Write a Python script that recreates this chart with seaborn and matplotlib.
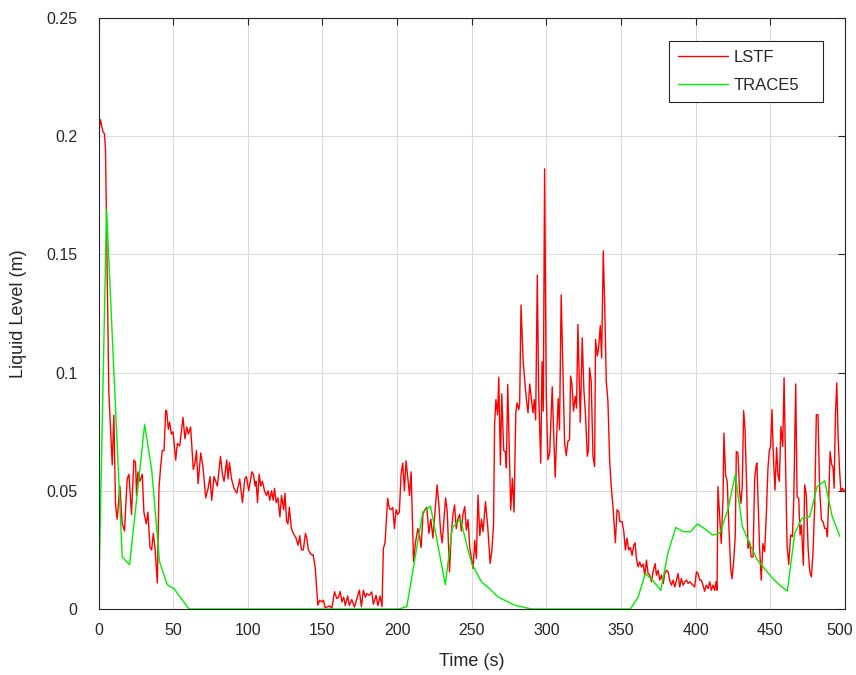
import seaborn as sns
import pandas as pd
import matplotlib.pyplot as plt
from matplotlib.transforms import ScaledTranslation

# LSTF liquid level
lstf_time = [
    0, 1.3, 2.9, 4, 4.7, 6.9, 9.2, 10.3, 11.4, 12.5, 14.3, 15.9, 17.4, 19.2, 20.4, 22.1, 23.7, 24.8, 25.5, 26.4,
    27.7, 29.3, 30.4, 32, 33.1, 34.5, 35.6, 36.7, 37.8, 39.4, 40.5, 41.6, 42.7, 43.9, 45, 45.6, 46.8, 47.6, 48.8, 49.9,
    51.7, 52.8, 54.4, 56.6, 57.9, 59.1, 60.2, 61.7, 63.5, 64.7, 65.6, 66.7, 68.5, 70, 71.8, 73.4, 74.7, 75.8, 77.4,
    79.6, 81.7, 83, 84.1, 85.9, 86.8, 87.7, 89.1, 90.8, 92.6, 94.6, 96.4, 98, 99.1, 100.6, 102.7, 103.8, 104.9, 105.6,
    106.5, 107.6, 108.7, 109.8, 111.2, 112.5, 113.6, 114.7, 115.9, 117, 117.9, 119, 120.2, 121.5, 122.6, 124, 124.9,
    126, 126.9, 127.8, 129.2, 130.5, 132.3, 133.7, 134.8, 135.9, 137.2, 138.6, 139.5, 140.6, 142.4, 143.7, 145.1,
    146.9, 148.2, 149.6, 150.7, 151.8, 153.6, 154.9, 156.3, 158.1,
    159.6, 160.8, 161.9, 163, 164.2, 165.3, 166.9, 168, 169.6, 171.4, 172.9, 174.7, 176.1, 177.4, 178.7, 179.8, 181.4,
    183, 184.1, 185.9, 187.2, 188.6, 189.9, 190.8, 191.9, 193.7, 194.8, 195.9, 197.1, 198.2, 199.3, 200.4, 201.5,
    202.7, 203.8, 204.9, 206, 207.2, 208.3, 209.4, 211, 212.3, 213.9, 215, 216.1, 217.3, 218.6, 219.9, 221.3, 222.6,
    224, 225.5, 226.8, 228, 229.1, 230.2, 231.3, 232.5, 233.6, 235.1, 236.2, 237.4, 238.5, 239.6, 240.7, 241.9, 243,
    244.1,
    245.3, 246.4, 247.5, 248.7, 250.2, 250.9, 252, 253.1, 254.2, 255.4, 256.5, 257.6, 259.2, 260.8, 262.3, 263.4,
    264.6, 265.3, 266.2, 267.3, 268.1, 269.2, 270.1, 271.4, 272.5, 273.2, 274.1, 276.1, 277.2, 278.3, 279.5, 280.3,
    281.5, 282.1, 283, 284.4, 285.5, 286.6, 287.7, 288.8, 289.9, 291, 291.9, 292.8, 293.9, 294.8, 296.2, 297.1,
    297.9, 298.8, 299.9, 301, 302.2, 303.9, 305, 305.9, 306.8, 307.9, 308.8, 309.9, 311.1, 312.2, 313.3, 314.4,
    315.5, 316.2, 317.1, 318.2, 319.3, 320.2, 321.1, 322.7, 324, 325.1, 326.2, 327.4, 328.2, 328.9, 330, 331.2,
    332.3, 332.9, 334.1, 334.9, 336.1, 337, 338.1, 339, 340.1, 341.2, 342.4, 343.5, 344.6, 346.2, 347.3, 348.6,
    349.1, 350.7, 351.8, 352.9, 354, 355.1, 356.2, 357.4, 358.5, 359.4, 360.3, 361.4, 362.5, 363.6, 364.8, 365.9,
    367, 368.1, 369.2, 370.4, 371.4, 372.8, 373.7, 374.8, 375.9, 377.1, 378.2, 379.3, 380.4, 381.5, 382.6, 383.8,
    384.9, 386, 387.1, 388.2, 389.3, 390.4, 391.6, 392.7, 393.8, 394.9, 396, 397.1, 398.2, 399.3, 400.5, 401.6,
    402.7, 403.8, 404.9, 406, 407.1, 408.3, 409.4, 410.5, 411.6, 412.7, 413.6, 414.3,
    414.9, 416, 417.1, 418.3, 418.9, 420, 421.1, 422.2, 423.4, 424.3, 425.4, 426.5, 427.2, 428.3, 429.4, 430.3,
    431.2, 432.1, 433, 434.1, 435, 436.1, 437.2, 438.4, 439.5, 440.4, 441, 441.9, 442.8, 443.9, 445, 446.2, 447.3,
    448.4, 449.3, 450.2, 451.1, 452, 453.1, 454.2, 455.1, 456, 457.1, 458.3, 459.2, 460.1, 461.2, 462.3, 463.6,
    464.8, 465.7, 467, 467.9, 469, 469.9, 470.8, 472.1, 473, 474.1, 475.3, 476.4, 477.5, 478.6, 479.7, 480.8,
    481.9, 483, 484.2, 485.3, 486.4, 487.5, 488.2, 489.1, 490, 491.1, 492, 492.7, 493.6, 494.5, 495.4, 496.3,
    497.2, 498.3, 499.4, 500,
]
lstf_level = [
    0.201, 0.207, 0.202, 0.201, 0.194, 0.092, 0.061, 0.082, 0.044, 0.038, 0.052, 0.036, 0.033, 0.055, 0.057, 0.040,
    0.063, 0.062, 0.048, 0.058, 0.054, 0.057, 0.041, 0.036, 0.041, 0.026, 0.025, 0.032, 0.026, 0.011, 0.051, 0.060,
    0.067, 0.067, 0.084, 0.084, 0.076, 0.079, 0.074, 0.075, 0.063, 0.070, 0.069, 0.081, 0.072, 0.077, 0.074, 0.077,
    0.059, 0.062, 0.067, 0.053, 0.066, 0.060, 0.047, 0.051, 0.056, 0.046, 0.056,
    0.052, 0.0645, 0.057, 0.054, 0.063, 0.055, 0.062, 0.055, 0.051, 0.049, 0.055, 0.045, 0.055, 0.056, 0.050, 0.058,
    0.057, 0.052, 0.054, 0.045, 0.057, 0.052, 0.054, 0.050, 0.048, 0.050, 0.046, 0.050, 0.046, 0.051, 0.045, 0.047,
    0.039, 0.048, 0.042, 0.049, 0.037, 0.036, 0.043, 0.034, 0.032, 0.030, 0.027, 0.031, 0.025, 0.025, 0.032, 0.030,
    0.025, 0.023, 0.023, 0.018, 0.0016, 0.0037, 0.003, 0.0037, 0.0005, 0.001, 0.0013, 0.0003, 0.0073,
    0.0044, 0.005, 0.0074, 0.003, 0.005, 0.0015, 0.0055, 0.0015, 0.004, 0.0008, 0.004, 0.008, 0.001, 0.008, 0.005,
    0.0065, 0.0058, 0.0072, 0.002, 0.0058, 0.0015, 0.0055, 0.001, 0.0256, 0.028, 0.0468, 0.0425, 0.042, 0.043,
    0.034, 0.042, 0.040, 0.041, 0.0574, 0.0617, 0.050, 0.0627, 0.0553, 0.048, 0.058, 0.020, 0.028, 0.034, 0.031,
    0.026, 0.040, 0.042, 0.043, 0.032, 0.038, 0.030, 0.042, 0.0525, 0.044, 0.033, 0.028, 0.037, 0.047, 0.041,
    0.0157, 0.031, 0.040, 0.044, 0.034, 0.038, 0.040, 0.033, 0.040,
    0.0433, 0.0334, 0.0378, 0.0256, 0.0200, 0.0171, 0.029, 0.0214, 0.0482, 0.031, 0.038, 0.0327, 0.0454, 0.034,
    0.0193, 0.0242, 0.0355, 0.078, 0.0886, 0.0822, 0.098, 0.061, 0.091, 0.067, 0.0666, 0.0597, 0.095, 0.0419,
    0.0553, 0.041, 0.0829, 0.0872, 0.0843, 0.087, 0.1286, 0.105, 0.0964, 0.0886, 0.083, 0.0952, 0.089, 0.083,
    0.0886, 0.080, 0.1413, 0.092, 0.0617, 0.1046, 0.0837, 0.1862, 0.0907, 0.0631, 0.066, 0.094, 0.072, 0.0557,
    0.072, 0.089, 0.0758, 0.1329, 0.099, 0.070, 0.0649, 0.071, 0.0716, 0.0985, 0.095, 0.0837, 0.090, 0.085,
    0.1204, 0.079, 0.1147, 0.0928, 0.082, 0.0646, 0.0673, 0.1020, 0.0964, 0.0646, 0.0603, 0.114, 0.107, 0.110,
    0.1199, 0.1062, 0.1515, 0.1299, 0.0964, 0.088, 0.0624, 0.0512, 0.0433, 0.028, 0.042, 0.041,
    0.037, 0.037, 0.033, 0.025, 0.030, 0.025, 0.026, 0.0227, 0.027, 0.028, 0.0213, 0.0178, 0.0199, 0.0178, 0.019,
    0.0143, 0.0207, 0.015, 0.0143, 0.0115, 0.0157, 0.0192, 0.0143, 0.0164, 0.0122, 0.0143, 0.0107, 0.015, 0.0164,
    0.0157, 0.0122, 0.0101, 0.0122, 0.0093, 0.0122, 0.015, 0.0093, 0.0129, 0.0101, 0.0115, 0.0122, 0.0108, 0.0115,
    0.0108, 0.0101, 0.0093, 0.0157, 0.015, 0.0122, 0.0122, 0.0101, 0.0075, 0.0101, 0.0086, 0.0115, 0.0079, 0.0101,
    0.0079, 0.0115, 0.0079,
    0.0518, 0.040, 0.0277, 0.0468, 0.0744, 0.0567, 0.054, 0.0355, 0.0171, 0.0128, 0.0199, 0.0313, 0.0666, 0.066,
    0.0497, 0.0447, 0.0525, 0.0839, 0.0765, 0.0525, 0.0256, 0.0284, 0.022, 0.022, 0.0553, 0.0603, 0.0617, 0.044,
    0.0256, 0.0122, 0.0277, 0.0242, 0.040, 0.0596, 0.067, 0.0688, 0.0843, 0.0652, 0.0503, 0.0683, 0.0567, 0.054,
    0.0772, 0.0688, 0.0978, 0.0645, 0.027, 0.0188, 0.0313, 0.0306, 0.0468, 0.0952, 0.0475, 0.0468, 0.0313, 0.0355,
    0.0185, 0.0525, 0.0482, 0.0256, 0.0157, 0.0136, 0.0242, 0.044, 0.0822, 0.0822, 0.0511, 0.0377, 0.0369, 0.0341,
    0.0341, 0.0306, 0.0468, 0.0666, 0.061, 0.060, 0.0511, 0.0822, 0.0957, 0.0723, 0.0596, 0.0497, 0.0511, 0.0497,
    0.0503,
]

# TRACE5 liquid level
trace_time = [
    0, 5.4, 15.9, 20.8, 30.9, 35.6, 40.9, 46, 50.6, 60.6, 201, 206.5, 217.2, 222.4, 232.3, 237, 242.4, 247.5,
    250.2, 256.5, 262, 267.6, 278.8, 290, 356.2, 361.4, 366.3, 371.4, 376.6, 381.5, 386.7, 391.6, 396.5, 401.2,
    406, 411.2, 416.1, 421.6, 426.5, 431.2, 436.1, 441, 446.2, 451.8, 456.5, 461.4, 466.3, 471.2, 476.4, 481.3,
    486.4, 491.3, 496.5,
]
trace_level = [
    0, 0.169, 0.022, 0.0187, 0.078, 0.059, 0.020, 0.0103, 0.0086, 0, 0, 0.001, 0.041, 0.0435, 0.0103, 0.0344,
    0.038, 0.025, 0.019, 0.0115, 0.0086, 0.0051, 0.0016, 0, 0, 0.005, 0.015, 0.012, 0.0079, 0.024, 0.0345,
    0.0327, 0.0327, 0.036, 0.034, 0.0313, 0.032, 0.042, 0.057, 0.035, 0.0277, 0.021, 0.017, 0.0128, 0.010,
    0.0076, 0.032, 0.0383, 0.039, 0.0518, 0.0542, 0.0394, 0.0308,
]

x_ticks = [0, 50, 100, 150, 200, 250, 300, 350, 400, 450, 500]
y_ticks = [0, 0.05, 0.1, 0.15, 0.2, 0.25]
y_tick_labels = ['0', '0.05', '0.1', '0.15', '0.2', '0.25']

sns.set_style('white')
plt.rcParams['font.family'] = ['Liberation Sans', 'DejaVu Sans']

lstf = pd.DataFrame({'Time': lstf_time, 'Level': lstf_level})
trace = pd.DataFrame({'Time': trace_time, 'Level': trace_level})

fig = plt.figure(figsize=(8.56, 6.75), dpi=100)
ax = fig.add_axes([98.5 / 856, 1 - 609 / 675, 746.5 / 856, 591 / 675])

sns.lineplot(data=lstf, x='Time', y='Level', ax=ax, color='#ff0000', linewidth=1.0,
             estimator=None, sort=False, label='LSTF')
sns.lineplot(data=trace, x='Time', y='Level', ax=ax, color='#00ee00', linewidth=1.0,
             estimator=None, sort=False, label='TRACE5')

ax.set_xlim(0, 500)
ax.set_ylim(0, 0.25)
ax.set_xticks(x_ticks)
ax.set_yticks(y_ticks)
ax.set_yticklabels(y_tick_labels)
ax.grid(True, color='#dcdcdc', linewidth=0.8)
ax.set_axisbelow(True)
ax.tick_params(direction='in', length=5, width=0.8, colors='#262626', labelsize=11.5,
               top=True, right=True)
ax.tick_params(axis='x', pad=10)
ax.tick_params(axis='y', pad=15)
for s in ax.spines.values():
    s.set_color('#262626')
    s.set_linewidth(0.8)
    s.set_visible(True)

# last x label sits a bit inside the figure, as in the original
last = ax.get_xticklabels()[-1]
last.set_transform(last.get_transform() + ScaledTranslation(-5 / 100, 0, fig.dpi_scale_trans))

ax.set_xlabel('Time (s)', fontsize=13, color='#262626', labelpad=11)
ax.set_ylabel('Liquid Level (m)', fontsize=13, color='#262626', labelpad=14)

# legend box spans a fixed width like the MATLAB one
leg = ax.legend(loc='upper left', bbox_to_anchor=(0.7642, 0.8562, 0.2063, 0.1048), mode='expand',
                borderaxespad=0, fontsize=12, handlelength=3.0, handletextpad=0.3, borderpad=0.55,
                labelspacing=0.75, fancybox=False, framealpha=1, edgecolor='#262626')
leg.get_frame().set_linewidth(0.8)

fig.savefig('out.png', dpi=100)
